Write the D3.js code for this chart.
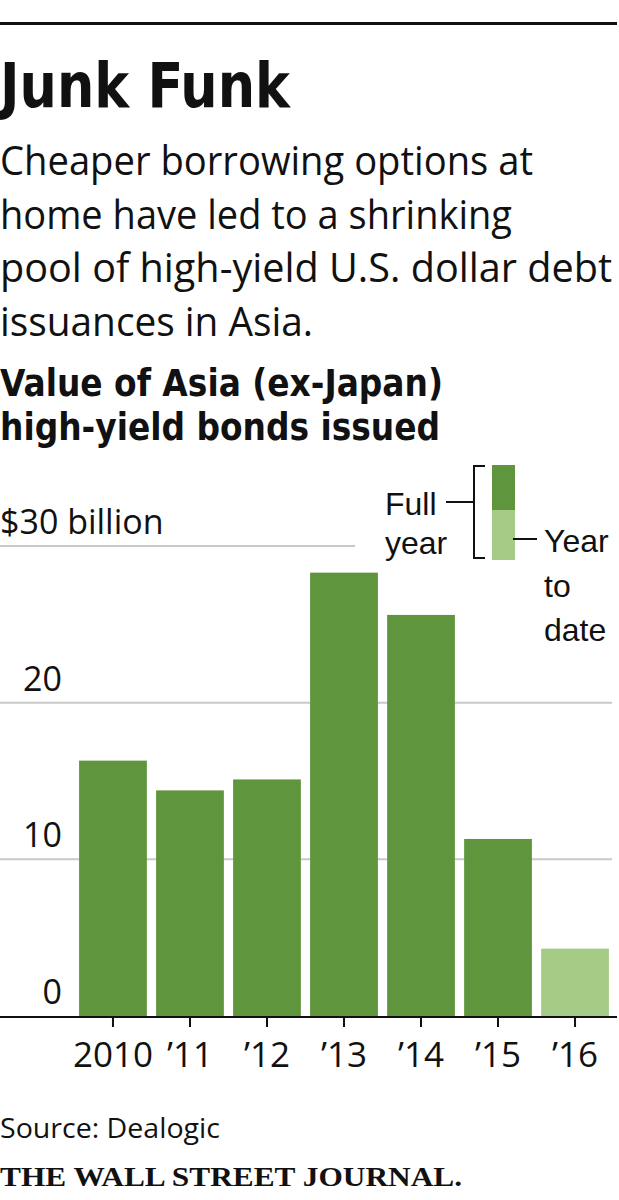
<!DOCTYPE html>
<html>
<head>
<meta charset="utf-8">
<script src="https://cdn.jsdelivr.net/npm/d3@7"></script>
<style>
  body { margin: 0; background: #fff; }
  svg { display: block; }
</style>
</head>
<body>
<svg id="chart"></svg>
<script>
const width = 619
const height = 1200

// data
const years = ['2010', '\u201911', '\u201912', '\u201913', '\u201914', '\u201915', '\u201916']
const values = [16.3, 14.4, 15.1, 28.3, 25.6, 11.3, 4.3]
const partial = [false, false, false, false, false, false, true]
const yTicks = [0, 10, 20, 30]
const subtitleLines = ['Cheaper borrowing options at', 'home have led to a shrinking', 'pool of high-yield U.S. dollar debt', 'issuances in Asia.']
const chartTitleLines = ['Value of Asia (ex-Japan)', 'high-yield bonds issued']
const fullLabel = ['Full', 'year']
const ytdLabel = ['Year', 'to', 'date']

// measured line widths in the original layout
const subtitleWidths = [533, 512, 612, 313]
const chartTitleWidths = [443, 440]

const dark = '#5f963d'
const light = '#a5cb86'
const sans = '"Open Sans", "Noto Sans", sans-serif'
const tight = '"Liberation Sans", Arial, sans-serif'
const cond = '"DejaVu Sans Condensed", "Liberation Sans Narrow", sans-serif'

const svg = d3.select('#chart').attr('width', width).attr('height', height)

// top rule
svg.append('line')
  .attr('x1', 0).attr('x2', 617).attr('y1', 23.5).attr('y2', 23.5)
  .attr('stroke', '#111').attr('stroke-width', 3)

svg.append('text')
  .attr('x', 0).attr('y', 107)
  .attr('font-family', cond).attr('font-weight', 700).attr('font-size', 63)
  .attr('textLength', 290).attr('lengthAdjust', 'spacingAndGlyphs')
  .attr('fill', '#111')
  .text('Junk Funk')

svg.append('g').selectAll('text')
  .data(subtitleLines)
  .enter().append('text')
  .attr('x', 0)
  .attr('y', (d, i) => 175 + i * 53.5)
  .attr('font-family', sans).attr('font-weight', 400).attr('font-size', 40)
  .attr('textLength', (d, i) => subtitleWidths[i]).attr('lengthAdjust', 'spacingAndGlyphs')
  .attr('fill', '#111')
  .text(d => d)

svg.append('g').selectAll('text')
  .data(chartTitleLines)
  .enter().append('text')
  .attr('x', 0)
  .attr('y', (d, i) => 396 + i * 44)
  .attr('font-family', cond).attr('font-weight', 700).attr('font-size', 37)
  .attr('textLength', (d, i) => chartTitleWidths[i]).attr('lengthAdjust', 'spacingAndGlyphs')
  .attr('fill', '#111')
  .text(d => d)

// scales
const baseY = 1016
const x = d3.scaleBand().domain(years).range([76, 612]).paddingInner(0.12).paddingOuter(0.04)
const y = d3.scaleLinear().domain([0, 30]).range([baseY, 546])

// gridlines
svg.append('g').selectAll('line')
  .data(yTicks.filter(t => t > 0))
  .enter().append('line')
  .attr('x1', 0)
  .attr('x2', d => d === 30 ? 355 : 612)
  .attr('y1', d => y(d)).attr('y2', d => y(d))
  .attr('stroke', '#c8c8c8').attr('stroke-width', 2)

svg.append('g').selectAll('text')
  .data(yTicks)
  .enter().append('text')
  .attr('x', d => d === 30 ? 0 : 62)
  .attr('text-anchor', d => d === 30 ? 'start' : 'end')
  .attr('y', d => y(d) - 12)
  .attr('font-family', sans).attr('font-weight', 400).attr('font-size', 34)
  .attr('fill', '#111')
  .text(d => d === 30 ? '$30 billion' : d)

// bars
svg.append('g').selectAll('rect')
  .data(years)
  .enter().append('rect')
  .attr('x', d => x(d))
  .attr('width', x.bandwidth())
  .attr('y', (d, i) => y(values[i]))
  .attr('height', (d, i) => baseY - y(values[i]))
  .attr('fill', (d, i) => partial[i] ? light : dark)

// x axis
const xAxis = svg.append('g')
  .attr('transform', `translate(0,${baseY})`)
  .call(d3.axisBottom(x).tickSize(11).tickSizeOuter(0).tickPadding(15))
xAxis.select('.domain').remove()
xAxis.selectAll('.tick line').attr('stroke', '#111').attr('stroke-width', 2)
xAxis.selectAll('.tick text')
  .attr('font-family', sans).attr('font-weight', 400).attr('font-size', 35)
  .attr('fill', '#111')
svg.append('line')
  .attr('x1', 0).attr('x2', 617).attr('y1', baseY + 1).attr('y2', baseY + 1)
  .attr('stroke', '#111').attr('stroke-width', 2)

// legend
const legend = svg.append('g')
legend.append('rect').attr('x', 492).attr('y', 465).attr('width', 23).attr('height', 45).attr('fill', dark)
legend.append('rect').attr('x', 492).attr('y', 510).attr('width', 23).attr('height', 50).attr('fill', light)
legend.append('path')
  .attr('d', 'M485,466 H474 V558 H485 M446,502 H474 M513,539 H537')
  .attr('fill', 'none').attr('stroke', '#111').attr('stroke-width', 2)

const fullText = legend.append('text')
  .attr('x', 385).attr('y', 515)
  .attr('font-family', tight).attr('font-weight', 400).attr('font-size', 32)
  .attr('fill', '#111')
fullText.selectAll('tspan')
  .data(fullLabel)
  .enter().append('tspan')
  .attr('x', 385)
  .attr('dy', (d, i) => i === 0 ? 0 : 39)
  .text(d => d)

const ytdText = legend.append('text')
  .attr('x', 544).attr('y', 552)
  .attr('font-family', tight).attr('font-weight', 400).attr('font-size', 32)
  .attr('fill', '#111')
ytdText.selectAll('tspan')
  .data(ytdLabel)
  .enter().append('tspan')
  .attr('x', 544)
  .attr('dy', (d, i) => i === 0 ? 0 : 44.5)
  .text(d => d)

// footer
svg.append('text')
  .attr('x', 0).attr('y', 1138)
  .attr('font-family', sans).attr('font-weight', 400).attr('font-size', 27)
  .attr('textLength', 220).attr('lengthAdjust', 'spacingAndGlyphs')
  .attr('fill', '#111')
  .text('Source: Dealogic')

svg.append('text')
  .attr('x', 0).attr('y', 1186)
  .attr('font-family', '"Liberation Serif", "DejaVu Serif", serif').attr('font-weight', 700).attr('font-size', 27)
  .attr('textLength', 462).attr('lengthAdjust', 'spacingAndGlyphs')
  .attr('fill', '#111')
  .text('THE WALL STREET JOURNAL.')
</script>
</body>
</html>
